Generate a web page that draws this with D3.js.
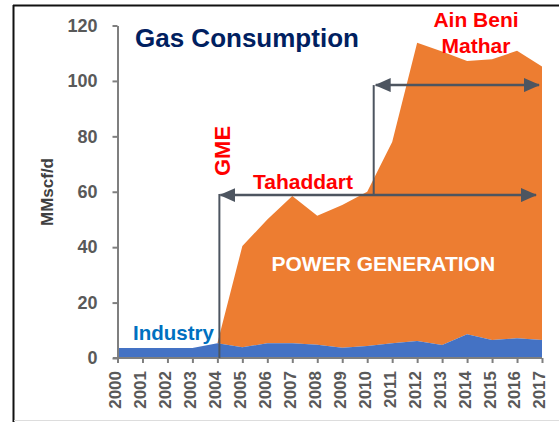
<!DOCTYPE html>
<html>
<head>
<meta charset="utf-8">
<script src="https://cdn.jsdelivr.net/npm/d3@7"></script>
<style>
  body { margin: 0; background: #fff; }
  svg { display: block; font-family: "Liberation Sans", Arial, sans-serif; font-weight: bold; }
</style>
</head>
<body>
<svg width="559" height="422"></svg>
<script>
// values (MMscf/d)
const years = [2000, 2001, 2002, 2003, 2004, 2005, 2006, 2007, 2008, 2009, 2010, 2011, 2012, 2013, 2014, 2015, 2016, 2017];
const industry = [3.6, 3.6, 3.6, 3.6, 5.3, 3.9, 5.3, 5.3, 4.8, 3.7, 4.3, 5.3, 6.1, 4.7, 8.6, 6.5, 7.1, 6.5];
const power = [0, 0, 0, 0, 0, 36.5, 44.7, 53.2, 46.5, 51.5, 55.7, 72.7, 107.7, 105.9, 98.6, 101.3, 103.8, 98.7];
const yTicks = [0, 20, 40, 60, 80, 100, 120];

const svg = d3.select('svg');

// frame
svg.append('line').attr('x1', 13).attr('x2', 559).attr('y1', 5.5).attr('y2', 5.5)
  .attr('stroke', '#111').attr('stroke-width', 2);
svg.append('line').attr('x1', 13.5).attr('x2', 13.5).attr('y1', 5).attr('y2', 422)
  .attr('stroke', '#111').attr('stroke-width', 2);
svg.append('line').attr('x1', 14).attr('x2', 559).attr('y1', 420.5).attr('y2', 420.5)
  .attr('stroke', '#ddd').attr('stroke-width', 1);

const x = d3.scalePoint().domain(years).range([117.5, 542]);
const y = d3.scaleLinear().domain([0, 120]).range([358, 25.5]);

const rows = years.map((yr, i) => ({ year: yr, industry: industry[i], power: power[i] }));
const stacked = d3.stack().keys(['industry', 'power'])(rows);

const area = d3.area()
  .x(d => x(d.data.year))
  .y0(d => y(d[0]))
  .y1(d => y(d[1]));

// power generation only from 2004 on
svg.append('path')
  .datum(stacked[1].filter(d => d.data.year >= 2004))
  .attr('fill', '#ED7D31')
  .attr('d', area);

svg.append('path')
  .datum(stacked[0])
  .attr('fill', '#4472C4')
  .attr('d', area);

// axes
const yAxis = svg.append('g')
  .attr('transform', 'translate(117.5,0)')
  .call(d3.axisLeft(y).tickValues(yTicks).tickSize(5).tickPadding(15).tickSizeOuter(0));
yAxis.select('.domain').attr('stroke', '#7f7f7f').attr('stroke-width', 2);
yAxis.selectAll('.tick line').attr('stroke', '#7f7f7f').attr('stroke-width', 2);
yAxis.selectAll('.tick text')
  .attr('fill', '#595959')
  .attr('font-size', 18)
  .attr('font-family', '"Liberation Sans", Arial, sans-serif')
  .attr('font-weight', 'bold');

const xAxis = svg.append('g')
  .attr('transform', `translate(0,${y(0)})`)
  .call(d3.axisBottom(x).tickSize(5).tickSizeOuter(0));
xAxis.select('.domain').attr('stroke', '#7f7f7f').attr('stroke-width', 2)
  .attr('d', `M113,0H${x(2017)}`);
xAxis.selectAll('.tick line').attr('stroke', '#7f7f7f').attr('stroke-width', 2);
xAxis.selectAll('.tick text')
  .attr('fill', '#595959')
  .attr('font-size', 17)
  .attr('font-family', '"Liberation Sans", Arial, sans-serif')
  .attr('font-weight', 'bold')
  .attr('text-anchor', 'end')
  .attr('transform', 'translate(-3,13) rotate(-90)')
  .attr('x', 0).attr('y', 0).attr('dy', '0.35em');

// y title
svg.append('text')
  .attr('transform', 'translate(53,192) rotate(-90)')
  .attr('text-anchor', 'middle')
  .attr('fill', '#404040')
  .attr('font-size', 17)
  .text('MMscf/d');

// arrows
const arrowColor = '#4d5560';
const defs = svg.append('defs');
defs.append('marker')
  .attr('id', 'head')
  .attr('viewBox', '0 0 16 14')
  .attr('refX', 15).attr('refY', 7)
  .attr('markerWidth', 16).attr('markerHeight', 14)
  .attr('markerUnits', 'userSpaceOnUse')
  .attr('orient', 'auto-start-reverse')
  .append('path').attr('d', 'M0,0L16,7L0,14Z').attr('fill', arrowColor);

function vline(xv, v0, v1) {
  svg.append('line')
    .attr('x1', xv).attr('x2', xv).attr('y1', y(v0)).attr('y2', y(v1))
    .attr('stroke', arrowColor).attr('stroke-width', 2);
}
function harrow(x0, x1, v) {
  svg.append('line')
    .attr('x1', x0).attr('x2', x1).attr('y1', y(v)).attr('y2', y(v))
    .attr('stroke', arrowColor).attr('stroke-width', 2.5)
    .attr('marker-start', 'url(#head)')
    .attr('marker-end', 'url(#head)');
}
vline(x(2004) + 2, 0, 59.2);
vline(x(2010) + 6.5, 58.8, 98.5);
harrow(x(2004) + 3, x(2017) - 6, 58.8);
harrow(x(2010) + 8.5, x(2017) - 3, 98.5);

// labels
svg.append('text')
  .attr('x', 135).attr('y', 47)
  .attr('fill', '#002060')
  .attr('font-size', 26)
  .text('Gas Consumption');

const red = '#FF0000';
svg.append('text')
  .attr('x', 476).attr('y', 27)
  .attr('text-anchor', 'middle')
  .attr('fill', red).attr('font-size', 21)
  .text('Ain Beni');
svg.append('text')
  .attr('x', 476).attr('y', 52.5)
  .attr('text-anchor', 'middle')
  .attr('fill', red).attr('font-size', 21)
  .text('Mathar');

svg.append('text')
  .attr('transform', 'translate(230,151) rotate(-90)')
  .attr('text-anchor', 'middle')
  .attr('fill', red).attr('font-size', 22)
  .text('GME');

svg.append('text')
  .attr('x', 253).attr('y', 188.5)
  .attr('fill', red).attr('font-size', 21)
  .text('Tahaddart');

svg.append('text')
  .attr('x', 271.5).attr('y', 271)
  .attr('fill', '#fff').attr('font-size', 21)
  .text('POWER GENERATION');

svg.append('text')
  .attr('x', 133).attr('y', 339.5)
  .attr('fill', '#0070C0').attr('font-size', 20.5)
  .text('Industry');
</script>
</body>
</html>
